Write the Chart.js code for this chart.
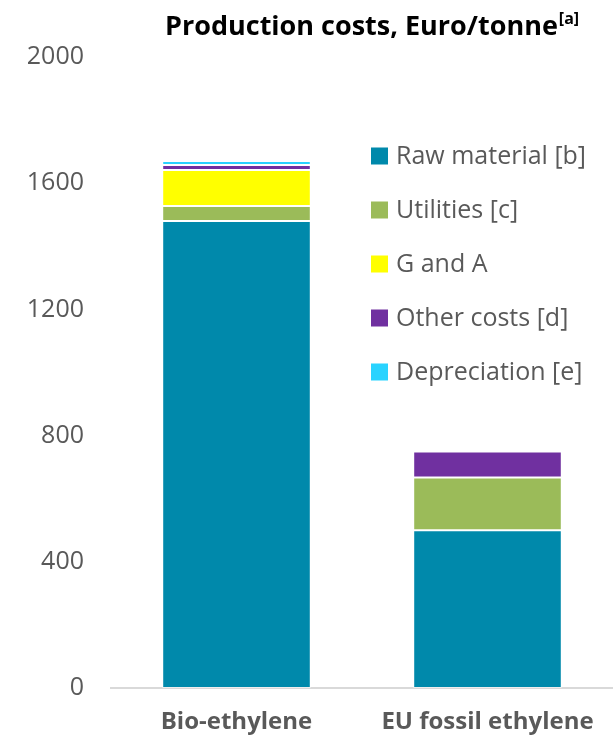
<!DOCTYPE html>
<html>
<head>
<meta charset="utf-8">
<script src="https://cdn.jsdelivr.net/npm/chart.js@4.4.1/dist/chart.umd.min.js"></script>
<style>
  html, body { margin: 0; padding: 0; background: #fff; }
  #wrap { width: 613px; height: 740px; }
</style>
</head>
<body>
<div id="wrap"><canvas id="costChart" width="613" height="740"></canvas></div>
<script>
const categories = ['Bio-ethylene', 'EU fossil ethylene'];
const rawMaterial = [1480, 500];
const utilities = [48, 167];
const gAndA = [114, 0];
const otherCosts = [16, 83];
const depreciation = [12, 0];
const yTicks = [0, 400, 800, 1200, 1600, 2000];

const seriesNames = ['Raw material [b]', 'Utilities [c]', 'G and A', 'Other costs [d]', 'Depreciation [e]'];
const seriesColors = ['#0089AB', '#9BBB59', '#FFFF00', '#7030A0', '#29D3FF'];
const seriesValues = [rawMaterial, utilities, gAndA, otherCosts, depreciation];

const FONT = "'Open Sans', sans-serif";
const GREY = '#595959';

// title with superscript, drawn on the canvas
const titlePlugin = {
  id: 'titleSup',
  afterDraw(chart) {
    const c = chart.ctx;
    c.save();
    c.fillStyle = '#000';
    c.textBaseline = 'alphabetic';
    c.font = 'bold 27px ' + FONT;
    const main = 'Production costs, Euro/tonne';
    const x = 165, y = 35;
    c.fillText(main, x, y);
    const w = c.measureText(main).width;
    c.font = 'bold 16px ' + FONT;
    c.fillText('[a]', x + w + 1, y - 11);
    c.restore();
  }
};

// legend sitting inside the plot area
const legendPlugin = {
  id: 'innerLegend',
  afterDraw(chart) {
    const c = chart.ctx;
    c.save();
    c.font = '25px ' + FONT;
    c.textBaseline = 'middle';
    chart.data.datasets.forEach((ds, i) => {
      const cy = 156 + i * 54;
      c.fillStyle = ds.backgroundColor;
      c.fillRect(371, cy - 8.5, 17, 17);
      c.fillStyle = GREY;
      c.fillText(ds.label, 396, cy + 1);
    });
    c.restore();
  }
};

const ctx = document.getElementById('costChart').getContext('2d');
new Chart(ctx, {
  type: 'bar',
  data: {
    labels: categories,
    datasets: seriesNames.map((name, i) => ({
      label: name,
      data: seriesValues[i],
      backgroundColor: seriesColors[i],
      borderColor: 'rgba(255,255,255,0.55)',
      borderWidth: c => (c.raw ? 1 : 0),
      borderSkipped: false,
      barPercentage: 0.592,
      categoryPercentage: 1
    }))
  },
  options: {
    responsive: false,
    animation: false,
    layout: { padding: { top: 57, right: 0, bottom: 0, left: 0 } },
    plugins: {
      legend: { display: false },
      title: { display: false },
      tooltip: { enabled: false }
    },
    scales: {
      x: {
        stacked: true,
        grid: { display: false },
        border: { display: true, color: '#d9d9d9', width: 2 },
        ticks: {
          color: GREY,
          maxRotation: 0,
          padding: 12,
          font: { family: FONT, weight: 'bold', size: 24 }
        },
        afterFit: s => { s.height = 52; }
      },
      y: {
        stacked: true,
        min: 0,
        max: 2000,
        afterBuildTicks: s => { s.ticks = yTicks.map(v => ({ value: v })); },
        grid: { display: false },
        border: { display: false },
        ticks: {
          color: GREY,
          padding: 19,
          font: { family: FONT, size: 25 },
          callback: v => String(v)
        },
        afterFit: s => { s.width = 111; }
      }
    }
  },
  plugins: [titlePlugin, legendPlugin]
});
</script>
</body>
</html>
